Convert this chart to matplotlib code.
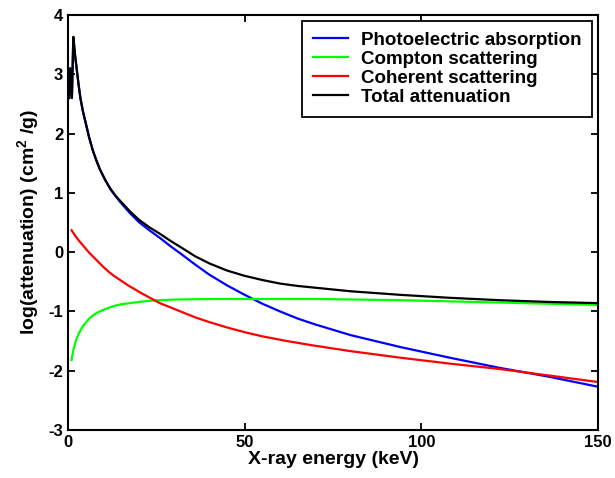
import matplotlib
matplotlib.use('Agg')
import matplotlib.pyplot as plt

# photoelectric + total share one energy grid (edge near 1-2 keV)
energy_pt = [0.3, 0.6, 1.1, 1.5, 2.0, 2.5, 3.0, 3.5, 4.2, 5, 6, 7, 8, 9, 10.5, 12,
             13.5, 15, 17.5, 20, 23, 26, 29, 32, 36, 40, 45, 50, 55, 60, 65, 70,
             80, 94, 108, 122, 136, 150]
photo = [2.6, 3.1, 2.6, 3.63, 3.32, 3.07, 2.82, 2.6, 2.38, 2.18, 1.93, 1.72, 1.55,
         1.4, 1.22, 1.06, 0.94, 0.83, 0.66, 0.51, 0.37, 0.24, 0.1, -0.03, -0.21,
         -0.38, -0.56, -0.72, -0.87, -1.0, -1.12, -1.22, -1.4, -1.6, -1.78, -1.95,
         -2.1, -2.27]
total = [2.6, 3.1, 2.6, 3.63, 3.32, 3.07, 2.82, 2.6, 2.38, 2.18, 1.93, 1.72, 1.55,
         1.4, 1.22, 1.07, 0.95, 0.85, 0.69, 0.55, 0.42, 0.31, 0.19, 0.08, -0.07,
         -0.19, -0.31, -0.4, -0.47, -0.53, -0.57, -0.6, -0.66, -0.72, -0.77, -0.81,
         -0.84, -0.86]

energy_co = [1, 2, 3, 4, 5, 6, 7, 8.5, 10, 11.5, 13, 15, 17, 19, 21, 23.5, 26, 28.5,
             31, 33.5, 36, 40, 45, 50, 55, 62, 69, 80, 94, 108, 122, 136, 150]
coherent = [0.37, 0.28, 0.2, 0.13, 0.06, -0.01, -0.07, -0.16, -0.25, -0.33, -0.4,
            -0.48, -0.56, -0.63, -0.7, -0.78, -0.86, -0.92, -0.98, -1.04, -1.1,
            -1.18, -1.27, -1.35, -1.42, -1.5, -1.57, -1.67, -1.78, -1.88, -1.97,
            -2.08, -2.19]

energy_cs = [1, 1.5, 2, 2.5, 3, 3.5, 4.3, 5.3, 6, 7, 8, 9, 10.5, 12, 13.5, 15, 17.5,
             20, 23, 26, 30, 35, 42, 50, 60, 70, 82, 94, 108, 122, 136, 150]
compton = [-1.82, -1.65, -1.54, -1.45, -1.38, -1.32, -1.24, -1.17, -1.12, -1.07,
           -1.03, -1.0, -0.96, -0.93, -0.9, -0.88, -0.86, -0.84, -0.82, -0.81, -0.8,
           -0.795, -0.79, -0.79, -0.79, -0.79, -0.8, -0.81, -0.83, -0.85, -0.87,
           -0.89]

plt.rcParams['font.family'] = ['Liberation Sans', 'DejaVu Sans']
plt.rcParams['font.weight'] = 'bold'
plt.rcParams['axes.unicode_minus'] = False
plt.rcParams['mathtext.fontset'] = 'custom'
plt.rcParams['mathtext.rm'] = 'Liberation Sans:bold'
plt.rcParams['mathtext.default'] = 'rm'

fig = plt.figure(figsize=(6.15, 4.78), dpi=100)
ax = fig.add_axes([0.1106, 0.1004, 0.8618, 0.8682])

ax.plot(energy_pt, photo, color=(0, 0, 1), lw=1.6, label='Photoelectric absorption')
ax.plot(energy_cs, compton, color=(0, 1, 0), lw=1.6, label='Compton scattering')
ax.plot(energy_co, coherent, color=(1, 0, 0), lw=1.6, label='Coherent scattering')
ax.plot(energy_pt, total, color='black', lw=1.6, label='Total attenuation')

ax.set_xlim(0, 150)
ax.set_ylim(-3, 4)
ax.set_xticks([0, 50, 100, 150])
ax.set_yticks(range(-3, 5))
ax.tick_params(direction='in', length=5, width=1.3, labelsize=12,
               top=True, right=True)
for s in ax.spines.values():
    s.set_linewidth(1.5)

ax.set_xlabel('X-ray energy (keV)', fontsize=14, fontweight='bold', labelpad=1)
ax.set_ylabel('log(attenuation) (cm$^2$ /g)', fontsize=14, fontweight='bold', labelpad=5)

leg = ax.legend(loc='upper right', fontsize=13.5, fancybox=False, edgecolor='black',
                framealpha=1, borderaxespad=0.3, labelspacing=0.1,
                handlelength=1.9, handletextpad=0.65, borderpad=0.6)
leg.get_frame().set_linewidth(1.3)

plt.savefig('out.png', dpi=100)
